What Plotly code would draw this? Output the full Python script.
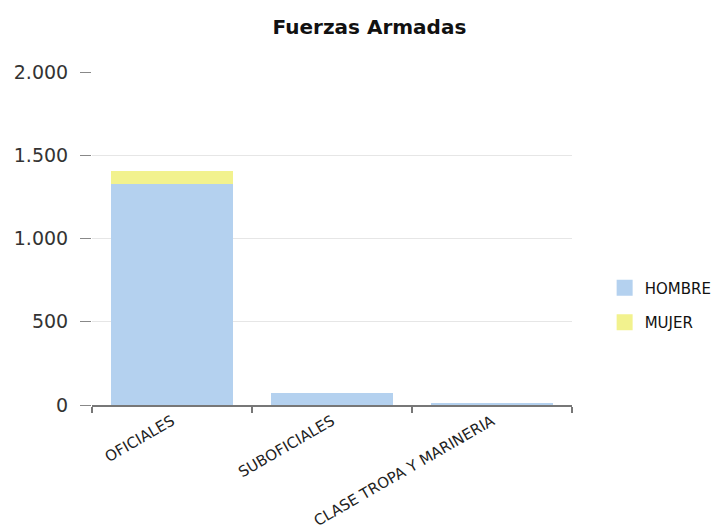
import plotly.graph_objects as go

categorias = ["OFICIALES", "SUBOFICIALES", "CLASE TROPA Y MARINERIA"]
hombre = [1325, 72, 12]
mujer = [78, 0, 0]
y_ticks = [0, 500, 1000, 1500, 2000]

series = [("HOMBRE", hombre, "#b4d1ef"), ("MUJER", mujer, "#f2f28e")]

fig = go.Figure()
for nombre, valores, color in series:
    fig.add_trace(go.Bar(
        x=categorias, y=valores, name=nombre, showlegend=False,
        marker=dict(color=color, line=dict(width=0)),
    ))
# legend entries drawn as larger square swatches
for i, (nombre, valores, color) in enumerate(series):
    fig.add_trace(go.Scatter(
        x=[None], y=[None], mode="markers", name=nombre, legendgroup=f"g{i}",
        marker=dict(symbol="square", size=17, color=color, line=dict(width=0)),
        hoverinfo="skip",
    ))

fig.update_layout(
    width=716, height=532,
    barmode="stack", bargap=0.2375,
    separators=",.",
    paper_bgcolor="white", plot_bgcolor="white",
    margin=dict(l=92, r=144, t=72, b=127, autoexpand=False),
    font=dict(family="DejaVu Sans", color="#333333"),
    title=dict(
        text="<b>Fuerzas Armadas</b>",
        x=0.516, xanchor="center", y=0.949, yanchor="middle",
        font=dict(size=20, color="#111111", family="DejaVu Sans"),
    ),
    legend=dict(
        x=1.068, xanchor="left", y=0.30, yanchor="middle",
        traceorder="grouped", tracegroupgap=12,
        itemsizing="trace",
        font=dict(size=15, color="#111111"),
        itemwidth=30,
    ),
    xaxis=dict(
        showline=True, linecolor="#777777", linewidth=1.5,
        ticks="outside", tickson="boundaries", ticklen=6, tickcolor="#777777",
        tickwidth=1.5, automargin=False,
        tickangle=-30, tickfont=dict(size=15, color="#222222"),
        showgrid=False,
    ),
    yaxis=dict(
        range=[0, 2000], tickvals=y_ticks, tickformat=",d",
        showgrid=True, gridcolor="#e6e6e6", gridwidth=1,
        ticks="outside", ticklen=11, tickcolor="#888888",
        ticklabelstandoff=8, automargin=False,
        tickfont=dict(size=19, color="#333333"),
        showline=False, zeroline=False,
    ),
)

fig.write_html("out.html")
